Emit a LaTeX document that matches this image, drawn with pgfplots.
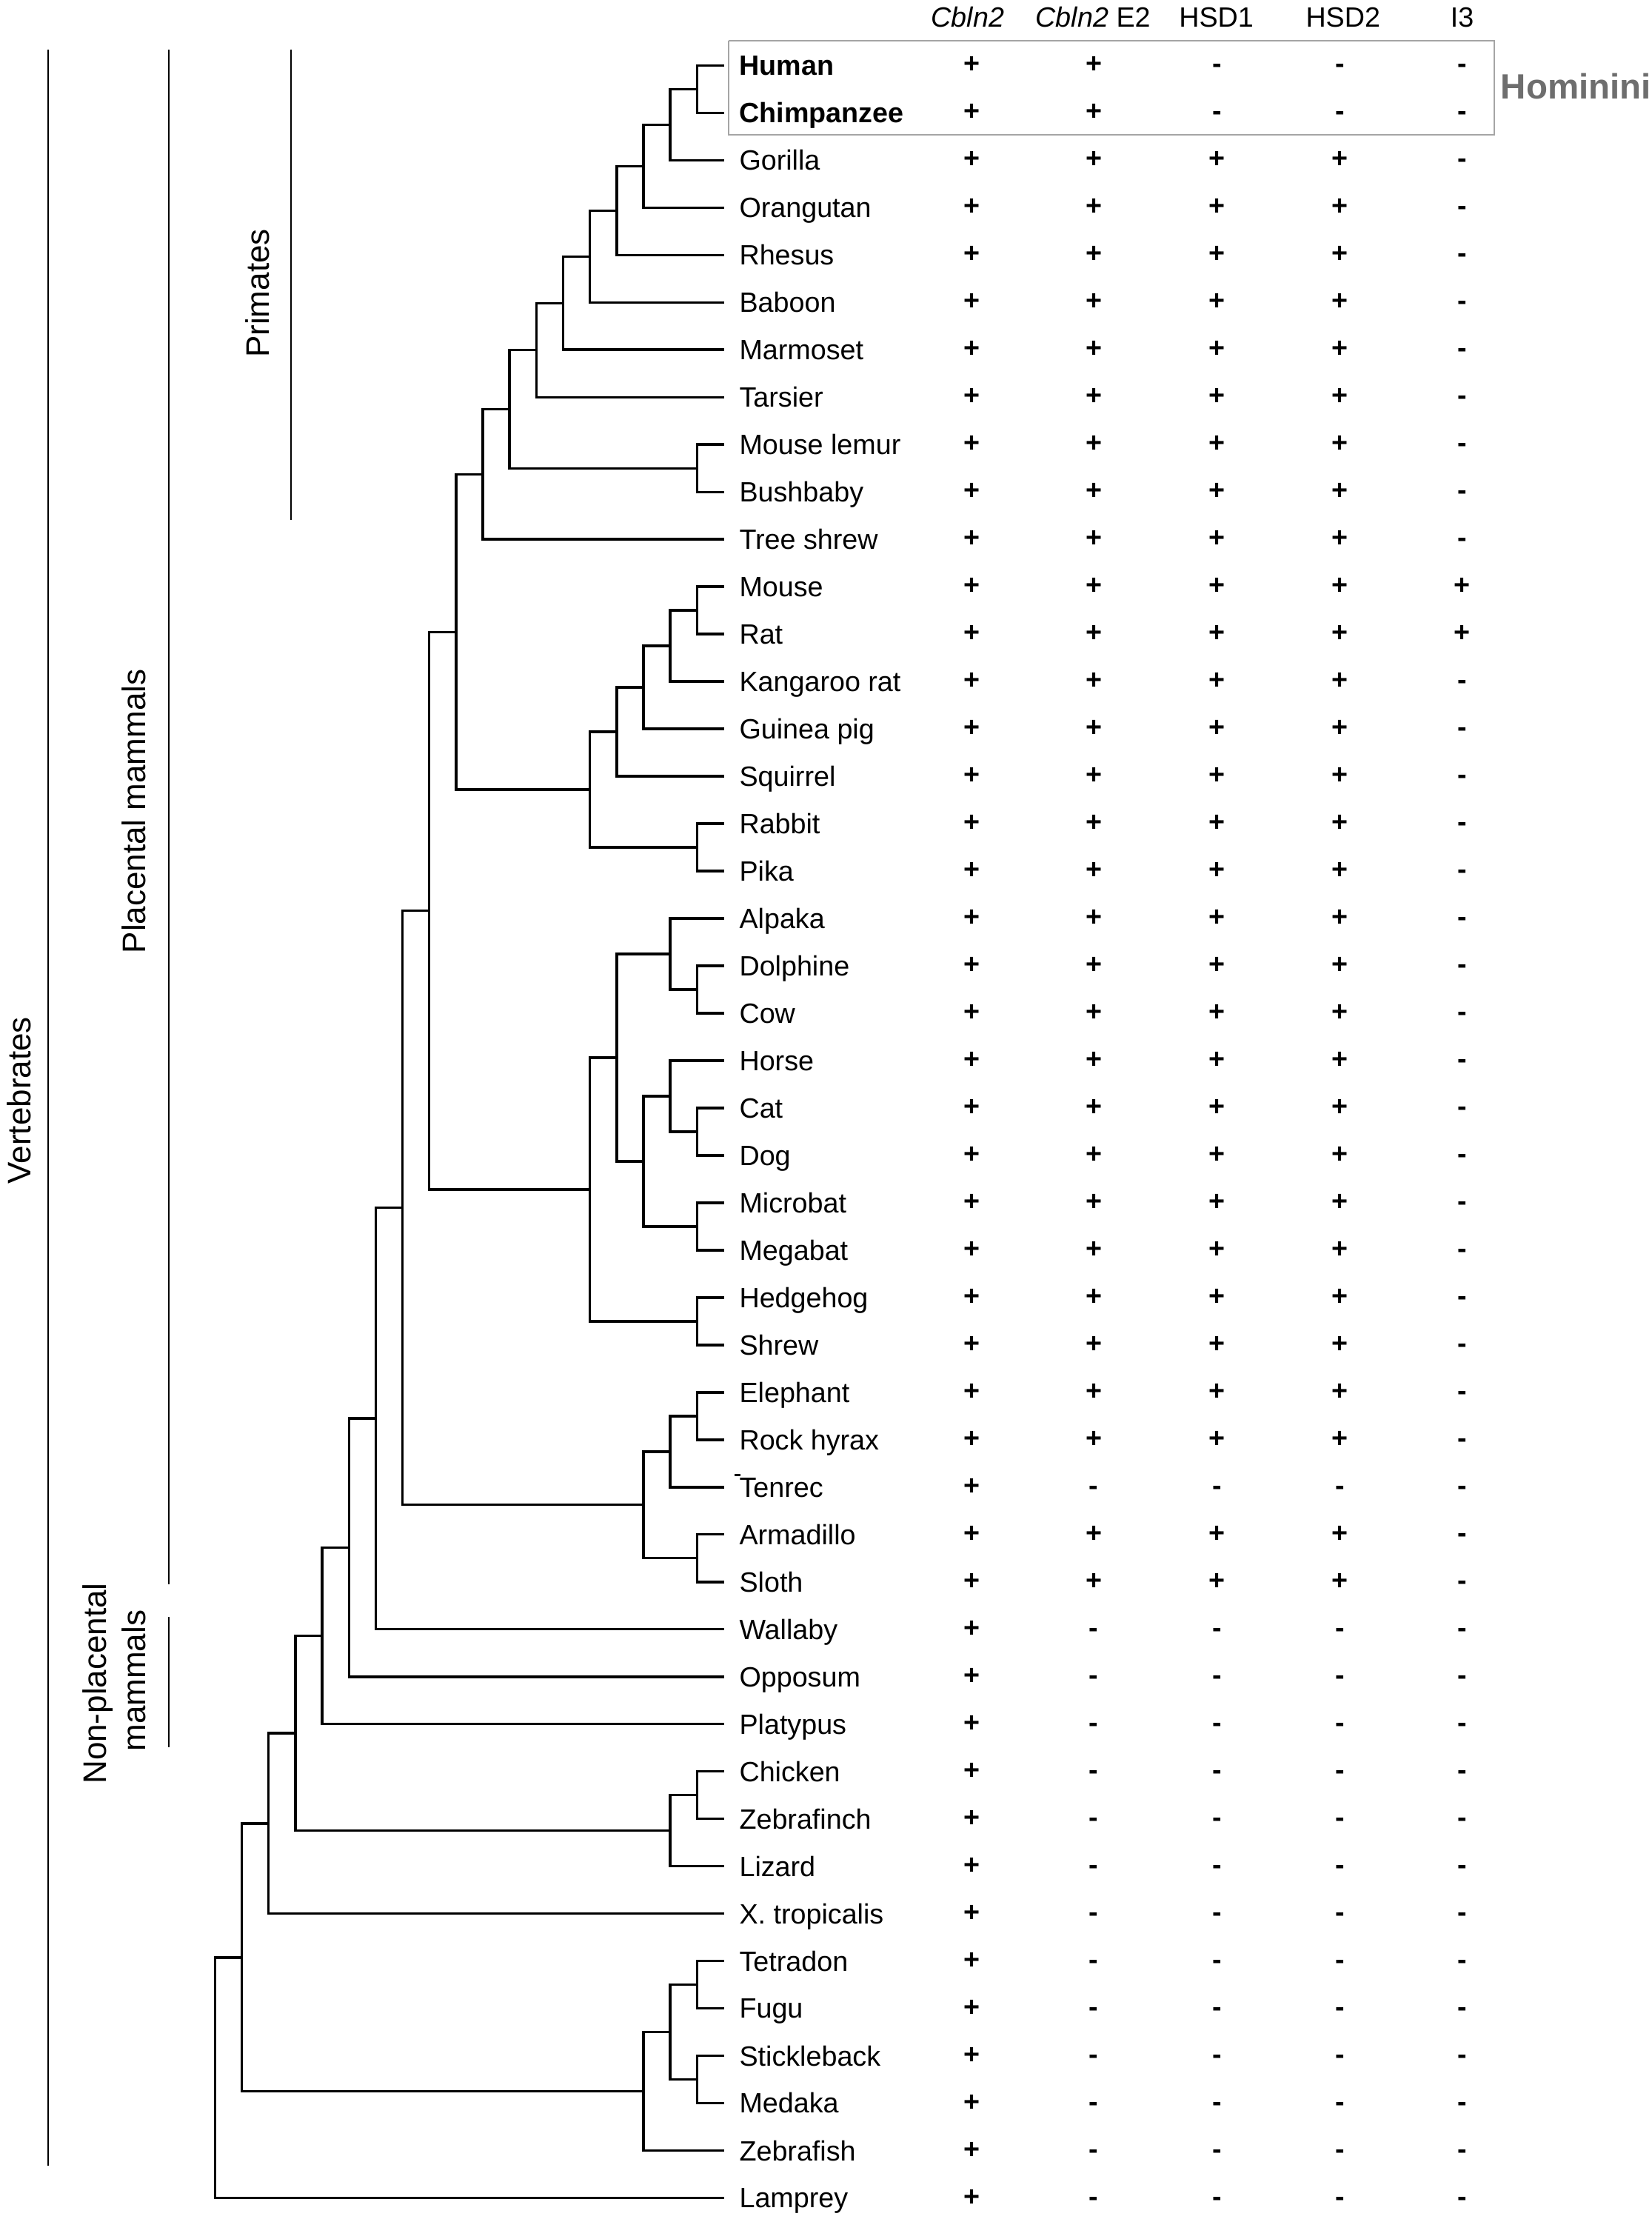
\documentclass[border=0pt]{standalone}
\usepackage{pgfplots}
\usepackage{pgfplotstable}
\pgfplotsset{compat=1.18}
\usepackage{fontspec}
\setmainfont{Liberation Sans}
\definecolor{homg}{RGB}{110,110,110}
\definecolor{boxg}{RGB}{165,165,165}
\newcommand\lbl{\fontsize{9.85}{11}\selectfont}
\newcommand\grp{\fontsize{11.5}{13}\selectfont}

% tree segments (display px; y downwards)
\pgfplotstableread[row sep=\\]{
x y\\
511 46.2\\ 492 46.2\\ 492 79.6\\ 511 79.6\\ nan nan\\
492 62.9\\ 473.1 62.9\\ 473.1 113.1\\ 511 113.1\\ nan nan\\
473.1 88.0\\ 454.2 88.0\\ 454.2 146.5\\ 511 146.5\\ nan nan\\
454.2 117.25\\ 435.3 117.25\\ 435.3 180.0\\ 511 180.0\\ nan nan\\
435.3 148.6\\ 416.4 148.6\\ 416.4 213.4\\ 511 213.4\\ nan nan\\
416.4 181.0\\ 397.5 181.0\\ 397.5 246.8\\ 511 246.8\\ nan nan\\
397.5 213.9\\ 378.6 213.9\\ 378.6 280.3\\ 511 280.3\\ nan nan\\
511 313.7\\ 492 313.7\\ 492 347.2\\ 511 347.2\\ nan nan\\
378.6 247.1\\ 359.7 247.1\\ 359.7 330.45\\ 492 330.45\\ nan nan\\
359.7 288.8\\ 340.8 288.8\\ 340.8 380.6\\ 511 380.6\\ nan nan\\
511 414.0\\ 492 414.0\\ 492 447.5\\ 511 447.5\\ nan nan\\
492 430.75\\ 473.1 430.75\\ 473.1 480.9\\ 511 480.9\\ nan nan\\
473.1 455.8\\ 454.2 455.8\\ 454.2 514.4\\ 511 514.4\\ nan nan\\
454.2 485.1\\ 435.3 485.1\\ 435.3 547.8\\ 511 547.8\\ nan nan\\
511 581.2\\ 492 581.2\\ 492 614.7\\ 511 614.7\\ nan nan\\
435.3 516.45\\ 416.4 516.45\\ 416.4 597.95\\ 492 597.95\\ nan nan\\
340.8 334.7\\ 321.9 334.7\\ 321.9 557.2\\ 416.4 557.2\\ nan nan\\
511 681.6\\ 492 681.6\\ 492 715.0\\ 511 715.0\\ nan nan\\
511 648.1\\ 473.1 648.1\\ 473.1 698.3\\ 492 698.3\\ nan nan\\
511 781.9\\ 492 781.9\\ 492 815.3\\ 511 815.3\\ nan nan\\
511 748.4\\ 473.1 748.4\\ 473.1 798.6\\ 492 798.6\\ nan nan\\
511 848.8\\ 492 848.8\\ 492 882.2\\ 511 882.2\\ nan nan\\
473.1 773.5\\ 454.2 773.5\\ 454.2 865.5\\ 492 865.5\\ nan nan\\
473.1 673.2\\ 435.3 673.2\\ 435.3 819.5\\ 454.2 819.5\\ nan nan\\
511 915.6\\ 492 915.6\\ 492 949.1\\ 511 949.1\\ nan nan\\
435.3 746.35\\ 416.4 746.35\\ 416.4 932.35\\ 492 932.35\\ nan nan\\
321.9 445.95\\ 303 445.95\\ 303 839.35\\ 416.4 839.35\\ nan nan\\
511 982.5\\ 492 982.5\\ 492 1016.0\\ 511 1016.0\\ nan nan\\
492 999.25\\ 473.1 999.25\\ 473.1 1049.4\\ 511 1049.4\\ nan nan\\
511 1082.8\\ 492 1082.8\\ 492 1116.3\\ 511 1116.3\\ nan nan\\
473.1 1024.3\\ 454.2 1024.3\\ 454.2 1099.55\\ 492 1099.55\\ nan nan\\
303 642.65\\ 284.1 642.65\\ 284.1 1061.9\\ 454.2 1061.9\\ nan nan\\
284.1 852.3\\ 265.2 852.3\\ 265.2 1149.7\\ 511 1149.7\\ nan nan\\
265.2 1001.0\\ 246.3 1001.0\\ 246.3 1183.2\\ 511 1183.2\\ nan nan\\
246.3 1092.1\\ 227.4 1092.1\\ 227.4 1216.6\\ 511 1216.6\\ nan nan\\
511 1250.0\\ 492 1250.0\\ 492 1283.5\\ 511 1283.5\\ nan nan\\
492 1266.75\\ 473.1 1266.75\\ 473.1 1316.9\\ 511 1316.9\\ nan nan\\
227.4 1154.35\\ 208.5 1154.35\\ 208.5 1291.8\\ 473.1 1291.8\\ nan nan\\
208.5 1223.1\\ 189.6 1223.1\\ 189.6 1350.4\\ 511 1350.4\\ nan nan\\
511 1383.8\\ 492 1383.8\\ 492 1417.2\\ 511 1417.2\\ nan nan\\
511 1450.7\\ 492 1450.7\\ 492 1484.1\\ 511 1484.1\\ nan nan\\
492 1400.5\\ 473.1 1400.5\\ 473.1 1467.4\\ 492 1467.4\\ nan nan\\
473.1 1433.95\\ 454.2 1433.95\\ 454.2 1517.6\\ 511 1517.6\\ nan nan\\
189.6 1286.75\\ 170.7 1286.75\\ 170.7 1475.8\\ 454.2 1475.8\\ nan nan\\
170.7 1381.3\\ 151.8 1381.3\\ 151.8 1551.0\\ 511 1551.0\\
}\treetab

\pgfplotstableread{
y name c1 c2 c3 c4 c5
46.2 {\textbf{Human}} + + - - -
79.6 {\textbf{Chimpanzee}} + + - - -
113.1 Gorilla + + + + -
146.5 Orangutan + + + + -
180.0 Rhesus + + + + -
213.4 Baboon + + + + -
246.8 Marmoset + + + + -
280.3 Tarsier + + + + -
313.7 {Mouse lemur} + + + + -
347.2 Bushbaby + + + + -
380.6 {Tree shrew} + + + + -
414.0 Mouse + + + + +
447.5 Rat + + + + +
480.9 {Kangaroo rat} + + + + -
514.4 {Guinea pig} + + + + -
547.8 Squirrel + + + + -
581.2 Rabbit + + + + -
614.7 Pika + + + + -
648.1 Alpaka + + + + -
681.6 Dolphine + + + + -
715.0 Cow + + + + -
748.4 Horse + + + + -
781.9 Cat + + + + -
815.3 Dog + + + + -
848.8 Microbat + + + + -
882.2 Megabat + + + + -
915.6 Hedgehog + + + + -
949.1 Shrew + + + + -
982.5 Elephant + + + + -
1016.0 {Rock hyrax} + + + + -
1049.4 Tenrec + - - - -
1082.8 Armadillo + + + + -
1116.3 Sloth + + + + -
1149.7 Wallaby + - - - -
1183.2 Opposum + - - - -
1216.6 Platypus + - - - -
1250.0 Chicken + - - - -
1283.5 Zebrafinch + - - - -
1316.9 Lizard + - - - -
1350.4 {X. tropicalis} + - - - -
1383.8 Tetradon + - - - -
1417.2 Fugu + - - - -
1450.7 Stickleback + - - - -
1484.1 Medaka + - - - -
1517.6 Zebrafish + - - - -
1551.0 Lamprey + - - - -
}\species

\begin{document}
\begin{tikzpicture}
\useasboundingbox (0,0) rectangle (583pt,784pt);
\begin{axis}[
  at={(0,0)}, anchor=south west,
  width=583pt, height=784pt, scale only axis,
  xmin=0, xmax=1166, ymin=0, ymax=1568, y dir=reverse,
  hide axis, clip=false,
  unbounded coords=jump,
  pm/.style={draw=none, nodes near coords, point meta=explicit symbolic,
    every node near coord/.append style={anchor=base, inner sep=0pt, font=\lbl\bfseries}},
]
% tree
\addplot[black, line width=0.9pt, line join=miter] table[x=x, y=y] {\treetab};
% small stray mark near Tenrec (as in the original)
\addplot[black, line width=0.7pt] coordinates {(518.5,1041) (522.5,1041)};
% group bars
\addplot[black, line width=0.55pt] coordinates {(34,35) (34,1528)};
\addplot[black, line width=0.55pt] coordinates {(119.4,35) (119.4,1118)};
\addplot[black, line width=0.55pt] coordinates {(119.4,1141) (119.4,1233)};
\addplot[black, line width=0.55pt] coordinates {(205.3,35) (205.3,367)};
% Hominini box
\addplot[boxg, line width=0.6pt] coordinates {(514.4,28.8) (1054.7,28.8) (1054.7,95) (514.4,95) (514.4,28.8)};
% species labels
\addplot[draw=none, nodes near coords, point meta=explicit symbolic,
  every node near coord/.append style={anchor=base west, inner sep=0pt, font=\lbl}]
  table[x expr=521.5, y expr=\thisrow{y}+7, meta=name] {\species};
% presence / absence
\addplot[pm] table[x expr=686, y expr=\thisrow{y}+5.5, meta=c1] {\species};
\addplot[pm] table[x expr=772, y expr=\thisrow{y}+5.5, meta=c2] {\species};
\addplot[pm] table[x expr=859, y expr=\thisrow{y}+5.5, meta=c3] {\species};
\addplot[pm] table[x expr=946, y expr=\thisrow{y}+5.5, meta=c4] {\species};
\addplot[pm] table[x expr=1032, y expr=\thisrow{y}+5.5, meta=c5] {\species};
% header
\node[anchor=base, inner sep=0pt, font=\lbl] at (axis cs:683,19.2) {\textit{Cbln2}};
\node[anchor=base, inner sep=0pt, font=\lbl] at (axis cs:771.5,19.2) {\textit{Cbln2} E2};
\node[anchor=base, inner sep=0pt, font=\lbl] at (axis cs:858.5,19.2) {HSD1};
\node[anchor=base, inner sep=0pt, font=\lbl] at (axis cs:948,19.2) {HSD2};
\node[anchor=base, inner sep=0pt, font=\lbl] at (axis cs:1032,19.2) {I3};
% Hominini
\node[anchor=base west, inner sep=0pt, text=homg, font=\fontsize{12.4}{14}\selectfont\bfseries] at (axis cs:1059,69.7) {Hominini};
% group labels
\node[rotate=90, anchor=base, inner sep=0pt, font=\grp] at (axis cs:21.8,776.5) {Vertebrates};
\node[rotate=90, anchor=base, inner sep=0pt, font=\grp] at (axis cs:102.8,572.5) {Placental mammals};
\node[rotate=90, anchor=base, inner sep=0pt, font=\grp] at (axis cs:190,207) {Primates};
\node[rotate=90, anchor=base, inner sep=0pt, font=\grp] at (axis cs:75,1188) {Non-placental};
\node[rotate=90, anchor=base, inner sep=0pt, font=\grp] at (axis cs:102.8,1186) {mammals};
\end{axis}
\end{tikzpicture}
\end{document}
